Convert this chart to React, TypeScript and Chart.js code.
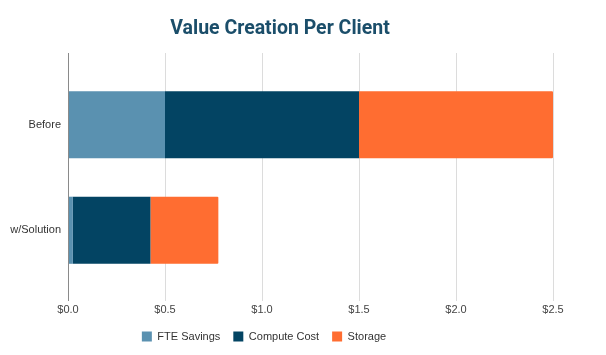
import React, { useEffect, useRef } from "react";
import { Chart, registerables } from "chart.js";

Chart.register(...registerables);

const categories = ["Before", "w/Solution"];
const fteSavings = [0.5, 0.025];
const computeCost = [1.0, 0.4];
const storage = [1.0, 0.35];
const xTicks = [0, 0.5, 1.0, 1.5, 2.0, 2.5];
const titleText = "Value Creation Per Client";

const gridPlugin = {
  id: "extGrid",
  afterLayout(chart: any) {
    if (chart.legend) {
      chart.legend.left = 0;
      chart.legend.right = 528;
      chart.legend.width = 528;
    }
  },
  beforeDatasetsDraw(chart: any) {
    const { ctx, chartArea, scales } = chart;
    const x = scales.x;
    ctx.save();
    ctx.strokeStyle = "#dcdcdc";
    ctx.lineWidth = 1;
    xTicks.forEach((v) => {
      if (v === 0) return;
      const px = Math.round(x.getPixelForValue(v)) + 0.5;
      ctx.beginPath();
      ctx.moveTo(px, chartArea.top - 19);
      ctx.lineTo(px, chartArea.bottom + 18);
      ctx.stroke();
    });
    ctx.restore();
  },
  afterDatasetsDraw(chart: any) {
    const { ctx, chartArea, scales } = chart;
    const x = scales.x;
    ctx.save();
    ctx.strokeStyle = "#8a8a8a";
    ctx.lineWidth = 1;
    const px = Math.round(x.getPixelForValue(0)) + 0.5;
    ctx.beginPath();
    ctx.moveTo(px, chartArea.top - 19);
    ctx.lineTo(px, chartArea.bottom + 18);
    ctx.stroke();
    ctx.restore();
  },
  afterDraw(chart: any) {
    const { ctx } = chart;
    ctx.save();
    ctx.fillStyle = "#1b4e6a";
    ctx.font = "bold 19.5px Roboto";
    ctx.textAlign = "center";
    ctx.textBaseline = "middle";
    ctx.fillText(titleText, 280, 29);
    ctx.restore();
  },
};

export default function App() {
  const ref = useRef<HTMLCanvasElement>(null);
  useEffect(() => {
    document.body.style.margin = "0";
    const chart = new Chart(ref.current as HTMLCanvasElement, {
      type: "bar",
      data: {
        labels: categories,
        datasets: [
          { label: "FTE Savings", data: fteSavings, backgroundColor: "#5a91b0", borderRadius: 1 },
          { label: "Compute Cost", data: computeCost, backgroundColor: "#034463", borderRadius: 1 },
          { label: "Storage", data: storage, backgroundColor: "#ff6d31", borderRadius: 1 },
        ],
      },
      options: {
        indexAxis: "y",
        responsive: false,
        animation: false,
        layout: { padding: { top: 72, left: 0, right: 53, bottom: 3 } },
        datasets: {
          bar: { categoryPercentage: 1, barPercentage: 0.636 },
        },
        scales: {
          x: {
            stacked: true,
            min: 0,
            max: 2.5,
            afterBuildTicks(scale: any) {
              scale.ticks = xTicks.map((v) => ({ value: v }));
            },
            afterFit(scale: any) {
              scale.height = 35;
            },
            grid: { display: false, drawTicks: false },
            border: { display: false },
            ticks: {
              padding: 20,
              color: "#444444",
              font: { family: "'Liberation Sans', Arial", size: 11 },
              callback: (v: any) => "$" + Number(v).toFixed(1),
            },
          },
          y: {
            stacked: true,
            afterFit(scale: any) {
              scale.width = 68;
            },
            grid: { display: false, drawTicks: false },
            border: { display: false },
            ticks: {
              padding: 7,
              color: "#333333",
              font: { family: "'Liberation Sans', Arial", size: 11 },
            },
          },
        },
        plugins: {
          title: { display: false },
          tooltip: { enabled: false },
          legend: {
            position: "bottom",
            labels: {
              boxWidth: 10,
              boxHeight: 10,
              padding: 13,
              color: "#333333",
              font: { family: "'Liberation Sans', Arial", size: 11 },
            },
          },
        },
      },
      plugins: [gridPlugin],
    });
    return () => chart.destroy();
  }, []);
  return (
    <div style={{ width: 606, height: 355 }}>
      <canvas ref={ref} width={606} height={355} />
    </div>
  );
}
